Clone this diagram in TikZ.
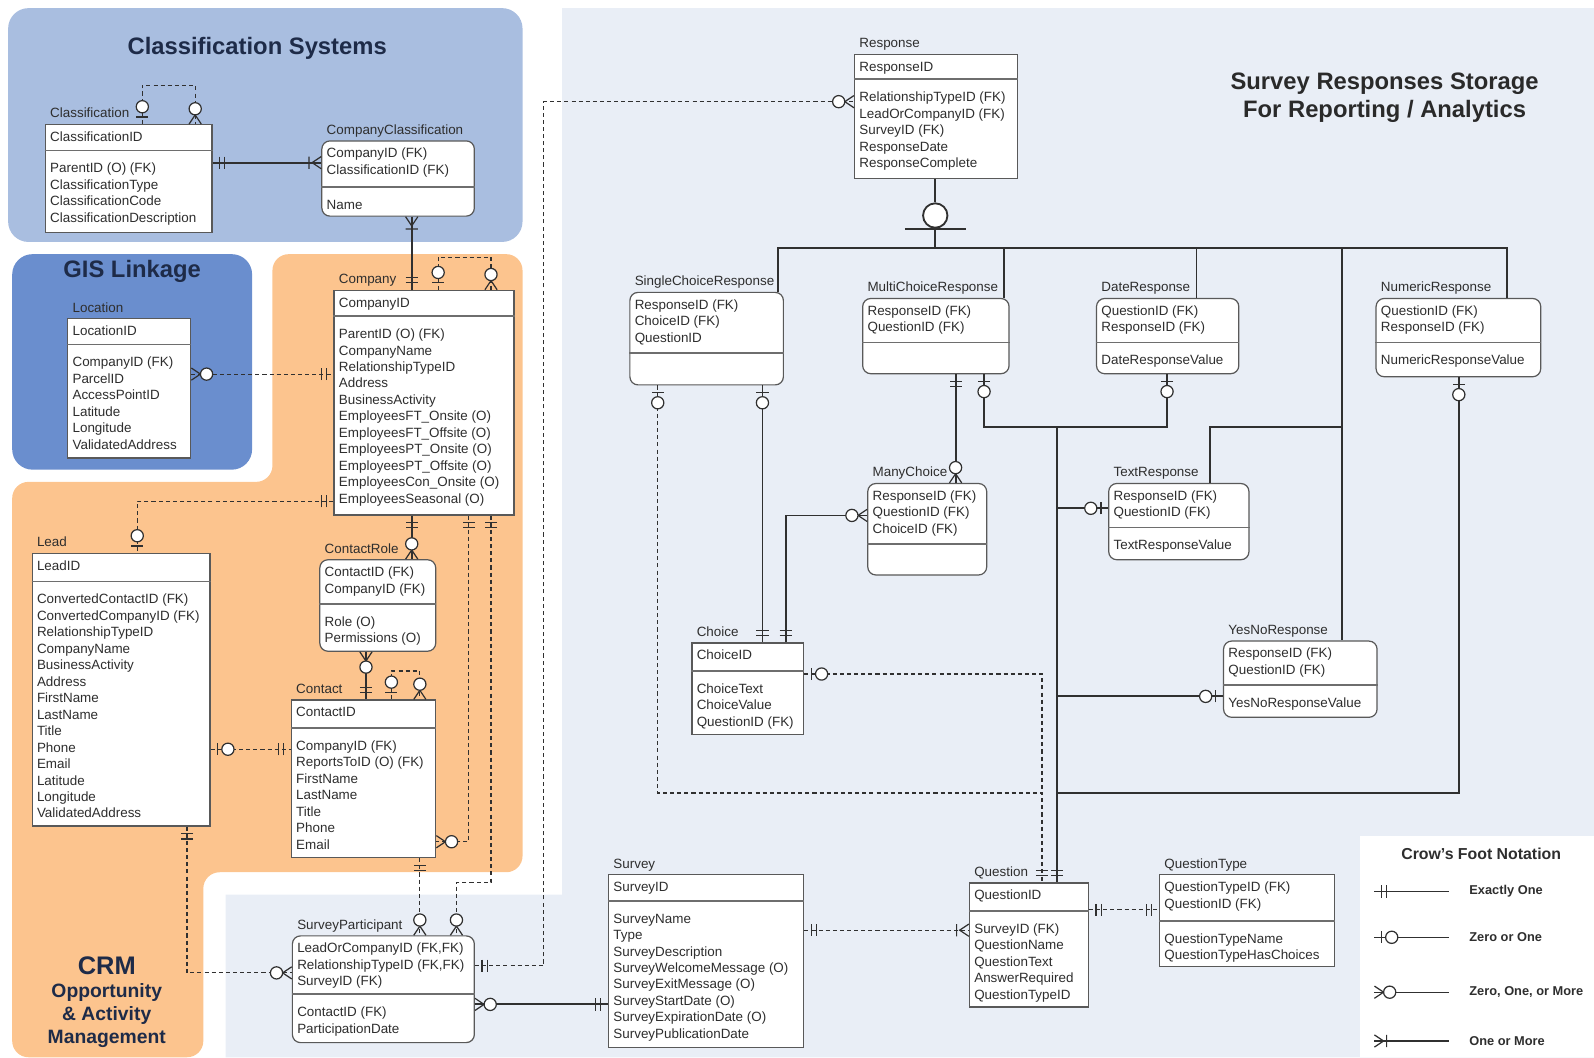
\documentclass[tikz,border=0pt]{standalone}
\usepackage{fontspec}
\setmainfont{Liberation Sans}
\usetikzlibrary{positioning}

\definecolor{classbg}{HTML}{A9BEE0}
\definecolor{gisbg}{HTML}{6A8ECE}
\definecolor{crmbg}{HTML}{FCC48E}
\definecolor{survbg}{HTML}{E9EEF6}
\definecolor{headc}{HTML}{1E2B48}
\definecolor{darkc}{HTML}{2A2A2A}
\definecolor{linec}{HTML}{303030}
\definecolor{txtc}{HTML}{2E2E2E}

\tikzset{
  ent/.style={draw=linec!80, fill=white, line width=0.6pt, anchor=north west, inner sep=0pt},
  entr/.style={rounded corners=4pt},
  enttitle/.style={anchor=base west, inner sep=0pt, font=\fontsize{6.6}{8}\selectfont, text=txtc},
  rowtxt/.style={anchor=base west, inner sep=0pt, font=\fontsize{6.6}{8}\selectfont, text=txtc},
  entsep/.style={draw=linec!70, line width=0.8pt},
  rel/.style={draw=linec, line width=0.6pt, dash pattern=on 2pt off 1.5pt},
  idrel/.style={draw=linec, line width=0.9pt},
  regtitle/.style={font=\bfseries\fontsize{11.7}{14}\selectfont, text=headc, align=center},
  legtxt/.style={anchor=west, inner sep=0pt, font=\bfseries\fontsize{6.3}{8}\selectfont, text=txtc},
  pics/exone/.style={code={\draw[linec, line width=0.6pt] (7,-6)--(7,6) (12,-6)--(12,6);}},
  pics/zeroone/.style={code={\draw[linec, line width=0.6pt] (7,-6)--(7,6);
      \draw[linec, line width=0.6pt, fill=white] (17,0) circle (3pt);}},
  pics/zeromany/.style={code={\draw[linec, line width=0.6pt] (0,-6)--(9,0)--(0,6);
      \draw[linec, line width=0.6pt, fill=white] (15,0) circle (3pt);}},
  pics/onemany/.style={code={\draw[linec, line width=0.6pt] (0,-6)--(9,0)--(0,6) (12,-6)--(12,6);}},
}

% entity box: [style]{name}{x,y}{width}{height}{key height}{title}{keys}{attributes}
\newcommand{\erbox}[9][]{%
  \node[ent,#1,minimum width=#4*0.5pt,minimum height=#5*0.5pt] (#2) at (#3) {};
  \node[enttitle] (#2-title) at ([shift={(5,-6)}]#2.north west) {#7};
  \draw[entsep] ([yshift=-#6*0.5pt]#2.north west) -- ([yshift=-#6*0.5pt]#2.north east);
  \foreach \r [count=\i] in {#8}
    \node[rowtxt] at ([shift={(5,1+16.2*\i)}]#2.north west) {\r};
  \foreach \r [count=\i] in {#9}
    \node[rowtxt] at ([shift={(5,#6+5.8+16.2*\i)}]#2.north west) {\r};
}

\begin{document}
\begin{tikzpicture}[x=0.5pt, y=-0.5pt]
    \useasboundingbox (0,0) rectangle (1568,1040);

    % areas
    \fill[survbg] (553,8) -- (1568,8) -- (1568,1040) -- (222,1040) -- (222,880) -- (553,880) -- cycle;
    \fill[classbg, rounded corners=10pt] (8,8) rectangle (514,238);
    \fill[gisbg, rounded corners=10pt] (12,250) rectangle (248,462);
    \fill[crmbg, rounded corners=8pt] (268,250) -- (514,250) -- (514,858) -- (200,858)
        -- (200,1040) -- (12,1040) -- (12,474) -- (268,474) -- cycle;
    \fill[white] (1338,822) rectangle (1568,1040);

    \node[regtitle] (ttl-class) at (253,48) {Classification Systems};
    \node[regtitle] (ttl-gis) at (130,267) {GIS Linkage};
    \node[regtitle, text=darkc] (ttl-survey) at (1362,96) {Survey Responses Storage\\For Reporting / Analytics};
    \node[regtitle, font=\bfseries\fontsize{12.5}{14}\selectfont] (ttl-crm) at (105,950) {CRM};
    \node[regtitle, font=\bfseries\fontsize{9.5}{11.5}\selectfont] (ttl-crm2) at (105,999)
        {Opportunity\\\& Activity\\Management};

    % CRM side
    \erbox{class}{44,122}{164}{106}{26}{Classification}{ClassificationID}
        {ParentID (O) (FK), ClassificationType, ClassificationCode, ClassificationDescription}
    \erbox[entr]{compclass}{316,138}{150}{74}{46}{CompanyClassification}
        {CompanyID (FK), ClassificationID (FK)}{Name}
    \erbox{location}{66,313}{121}{137}{26}{Location}{LocationID}
        {CompanyID (FK), ParcelID, AccessPointID, Latitude, Longitude, ValidatedAddress}
    \erbox{company}{328,285}{177}{221}{26}{Company}{CompanyID}
        {ParentID (O) (FK), CompanyName, RelationshipTypeID, Address, BusinessActivity,
         EmployeesFT\_Onsite (O), EmployeesFT\_Offsite (O), EmployeesPT\_Onsite (O),
         EmployeesPT\_Offsite (O), EmployeesCon\_Onsite (O), EmployeesSeasonal (O)}
    \erbox{lead}{31,544}{175}{268}{28}{Lead}{LeadID}
        {ConvertedContactID (FK), ConvertedCompanyID (FK), RelationshipTypeID, CompanyName,
         BusinessActivity, Address, FirstName, LastName, Title, Phone, Email, Latitude,
         Longitude, ValidatedAddress}
    \erbox[entr]{crole}{314,550}{114}{90}{44}{ContactRole}
        {ContactID (FK), CompanyID (FK)}{Role (O), Permissions (O)}
    \erbox{contact}{286,688}{142}{155}{28}{Contact}{ContactID}
        {CompanyID (FK), ReportsToID (O) (FK), FirstName, LastName, Title, Phone, Email}
    \erbox[entr]{part}{287,920}{179}{105}{58}{SurveyParticipant}
        {{LeadOrCompanyID (FK,FK)}, {RelationshipTypeID (FK,FK)}, SurveyID (FK)}
        {ContactID (FK), ParticipationDate}

    % survey side
    \erbox{survey}{598,860}{192}{170}{26}{Survey}{SurveyID}
        {SurveyName, Type, SurveyDescription, SurveyWelcomeMessage (O), SurveyExitMessage (O),
         SurveyStartDate (O), SurveyExpirationDate (O), SurveyPublicationDate}
    \erbox{question}{953,868}{117}{122}{28}{Question}{QuestionID}
        {SurveyID (FK), QuestionName, QuestionText, AnswerRequired, QuestionTypeID}
    \erbox{qtype}{1140,860}{172}{90}{46}{QuestionType}
        {QuestionTypeID (FK), QuestionID (FK)}{QuestionTypeName, QuestionTypeHasChoices}
    \erbox{response}{840,53}{160}{122}{25}{Response}{ResponseID}
        {RelationshipTypeID (FK), LeadOrCompanyID (FK), SurveyID (FK), ResponseDate, ResponseComplete}
    \erbox[entr]{scr}{619,287}{151}{91}{60}{SingleChoiceResponse}
        {ResponseID (FK), ChoiceID (FK), QuestionID}{}
    \erbox[entr]{mcr}{848,293}{144}{74}{44}{MultiChoiceResponse}
        {ResponseID (FK), QuestionID (FK)}{}
    \erbox[entr]{dater}{1078,293}{140}{74}{44}{DateResponse}
        {QuestionID (FK), ResponseID (FK)}{DateResponseValue}
    \erbox[entr]{numr}{1353,293}{162}{77}{44}{NumericResponse}
        {QuestionID (FK), ResponseID (FK)}{NumericResponseValue}
    \erbox[entr]{manyc}{853,475}{117}{90}{60}{ManyChoice}
        {ResponseID (FK), QuestionID (FK), ChoiceID (FK)}{}
    \erbox[entr]{textr}{1090,475}{138}{75}{44}{TextResponse}
        {ResponseID (FK), QuestionID (FK)}{TextResponseValue}
    \erbox{choice}{680,632}{110}{90}{28}{Choice}{ChoiceID}
        {ChoiceText, ChoiceValue, QuestionID (FK)}
    \erbox[entr]{yesno}{1203,630}{151}{75}{44}{YesNoResponse}
        {ResponseID (FK), QuestionID (FK)}{YesNoResponseValue}

    % bends
    \coordinate (cl1) at (140,84);  \coordinate (cl2) at (192,84);
    \coordinate (cc) at (260,160);  \coordinate (co) at (405,250);
    \coordinate (cp1) at (431,253); \coordinate (cp2) at (483,253);
    \coordinate (lc) at (260,368);  \coordinate (ld) at (135,493);
    \coordinate (cr) at (405,530);  \coordinate (rc) at (360,665);
    \coordinate (ct1) at (385,660); \coordinate (ct2) at (413,660);
    \coordinate (lk) at (246,737);  \coordinate (kc) at (461,828);
    \coordinate (ks1) at (483,868); \coordinate (ks2) at (449,868);
    \coordinate (cs) at (413,880);  \coordinate (ls) at (184,957);
    \coordinate (pr1) at (535,950); \coordinate (pr2) at (535,100);
    \coordinate (ps) at (530,988);  \coordinate (sq) at (870,915);
    \coordinate (qt) at (1100,895);
    \coordinate (b1) at (765,244);  \coordinate (b2) at (988,244);
    \coordinate (b3) at (1177,244); \coordinate (b4) at (1320,244);
    \coordinate (b5) at (1482,244); \coordinate (tr) at (1190,420);
    \coordinate (sc) at (750,500);  \coordinate (sq1) at (647,780);
    \coordinate (qx) at (1025,780); \coordinate (cq) at (1025,663);
    \coordinate (cm) at (773,507);  \coordinate (mm) at (940,420);
    \coordinate (mq1) at (968,420); \coordinate (mq2) at (1148,420);
    \coordinate (qq) at (1040,420); \coordinate (qtx) at (1040,500);
    \coordinate (qyn) at (1040,685);\coordinate (nq1) at (1435,780);
    \coordinate (nq2) at (1040,780);

    % relations
    \draw[rel] (class.north -| cl1) -- (cl1) -- (cl2) -- (class.north -| cl2);
    \draw[idrel] (class.east |- cc) -- (compclass.west |- cc);
    \draw[idrel] (compclass.south -| co) -- (company.north -| co);
    \draw[rel] (company.north -| cp1) -- (cp1) -- (cp2) -- (company.north -| cp2);
    \draw[rel] (location.east |- lc) -- (company.west |- lc);
    \draw[rel] (company.west |- ld) -- (ld) -- (lead.north -| ld);
    \draw[idrel] (company.south -| cr) -- (crole.north -| cr);
    \draw[idrel] (crole.south -| rc) -- (contact.north -| rc);
    \draw[rel] (contact.north -| ct1) -- (ct1) -- (ct2) -- (contact.north -| ct2);
    \draw[rel] (lead.east |- lk) -- (contact.west |- lk);
    \draw[rel] (company.south -| kc) -- (kc) -- (contact.east |- kc);
    \draw[rel] (company.south -| ks1) -- (ks1) -- (ks2) -- (part.north -| ks2);
    \draw[rel] (contact.south -| cs) -- (part.north -| cs);
    \draw[rel] (lead.south -| ls) -- (ls) -- (part.west |- ls);
    \draw[rel] (part.east |- pr1) -- (pr1) -- (pr2) -- (response.west |- pr2);
    \draw[idrel] (part.east |- ps) -- (survey.west |- ps);
    \draw[rel] (survey.east |- sq) -- (question.west |- sq);
    \draw[rel] (question.east |- qt) -- (qtype.west |- qt);

    % response subtypes
    \node[circle, draw=linec, line width=0.9pt, fill=white, minimum size=12pt, inner sep=0pt]
        (hub) at (920,212) {};
    \draw[idrel] (response.south -| hub) -- (hub);
    \draw[idrel] (hub.south) -- (b1 -| hub);
    \draw[linec, line width=0.9pt] ([xshift=-15pt]hub.south) -- ([xshift=15pt]hub.south);
    \draw[idrel] (scr.north -| b1) -- (b1) -- (b5) -- (numr.north -| b5);
    \draw[idrel] (b2) -- (mcr.north -| b2);
    \draw[idrel] (b3) -- (dater.north -| b3);
    \draw[idrel] (b4) -- (yesno.north -| b4);
    \draw[idrel] (textr.north -| tr) -- (tr) -- (tr -| b4);

    \draw[idrel] (scr.south -| sc) -- (choice.north -| sc);
    \draw[rel] (scr.south -| sq1) -- (sq1) -- (qx) -- (question.north -| qx);
    \draw[rel] (choice.east |- cq) -- (cq) -- (qx);
    \draw[idrel] (choice.north -| cm) -- (cm) -- (manyc.west |- cm);
    \draw[idrel] (mcr.south -| mm) -- (manyc.north -| mm);
    \draw[idrel] (mcr.south -| mq1) -- (mq1) -- (mq2) -- (dater.south -| mq2);
    \draw[idrel] (qq) -- (question.north -| qq);
    \draw[idrel] (qtx) -- (textr.west |- qtx);
    \draw[idrel] (qyn) -- (yesno.west |- qyn);
    \draw[idrel] (numr.south -| nq1) -- (nq1) -- (nq2);

    % ends
    \pic[rotate=90] at (class.north -| cl1) {zeroone};
    \pic[rotate=90] at (class.north -| cl2) {zeromany};
    \pic at (class.east |- cc) {exone};
    \pic[rotate=180] at (compclass.west |- cc) {onemany};
    \pic[rotate=-90] at (compclass.south -| co) {onemany};
    \pic[rotate=90] at (company.north -| co) {exone};
    \pic[rotate=90] at (company.north -| cp1) {zeroone};
    \pic[rotate=90] at (company.north -| cp2) {zeromany};
    \pic at (location.east |- lc) {zeromany};
    \pic[rotate=180] at (company.west |- lc) {exone};
    \pic[rotate=180] at (company.west |- ld) {exone};
    \pic[rotate=90] at (lead.north -| ld) {zeroone};
    \pic[rotate=-90] at (company.south -| cr) {exone};
    \pic[rotate=90] at (crole.north -| cr) {zeromany};
    \pic[rotate=-90] at (crole.south -| rc) {zeromany};
    \pic[rotate=90] at (contact.north -| rc) {exone};
    \pic[rotate=90] at (contact.north -| ct1) {zeroone};
    \pic[rotate=90] at (contact.north -| ct2) {zeromany};
    \pic at (lead.east |- lk) {zeroone};
    \pic[rotate=180] at (contact.west |- lk) {exone};
    \pic[rotate=-90] at (company.south -| kc) {exone};
    \pic at (contact.east |- kc) {zeromany};
    \pic[rotate=-90] at (company.south -| ks1) {exone};
    \pic[rotate=90] at (part.north -| ks2) {zeromany};
    \pic[rotate=-90] at (contact.south -| cs) {exone};
    \pic[rotate=90] at (part.north -| cs) {zeromany};
    \pic[rotate=-90] at (lead.south -| ls) {exone};
    \pic[rotate=180] at (part.west |- ls) {zeromany};
    \pic at (part.east |- pr1) {exone};
    \pic[rotate=180] at (response.west |- pr2) {zeromany};
    \pic at (part.east |- ps) {zeromany};
    \pic[rotate=180] at (survey.west |- ps) {exone};
    \pic at (survey.east |- sq) {exone};
    \pic[rotate=180] at (question.west |- sq) {onemany};
    \pic at (question.east |- qt) {exone};
    \pic[rotate=180] at (qtype.west |- qt) {exone};
    \pic[rotate=-90] at (scr.south -| sc) {zeroone};
    \pic[rotate=90] at (choice.north -| sc) {exone};
    \pic[rotate=-90] at (scr.south -| sq1) {zeroone};
    \pic[rotate=90] at (question.north -| qx) {exone};
    \pic at (choice.east |- cq) {zeroone};
    \pic[rotate=90] at (choice.north -| cm) {exone};
    \pic[rotate=180] at (manyc.west |- cm) {zeromany};
    \pic[rotate=-90] at (mcr.south -| mm) {exone};
    \pic[rotate=90] at (manyc.north -| mm) {zeromany};
    \pic[rotate=-90] at (mcr.south -| mq1) {zeroone};
    \pic[rotate=-90] at (dater.south -| mq2) {zeroone};
    \pic[rotate=90] at (question.north -| qq) {exone};
    \pic[rotate=180] at (textr.west |- qtx) {zeroone};
    \pic[rotate=180] at (yesno.west |- qyn) {zeroone};
    \pic[rotate=-90] at (numr.south -| nq1) {zeroone};

    % legend
    \node[font=\bfseries\fontsize{7.8}{9}\selectfont, text=txtc] (leg) at (1457,840) {Crow's Foot Notation};
    \foreach \y/\kind/\txt [count=\n] in {877/exone/Exactly One, 922/zeroone/Zero or One,
            976/zeromany/{Zero, One, or More}, 1024/onemany/One or More} {
        \coordinate (lg\n) at (1352,\y);
        \draw[linec, line width=0.6pt] (lg\n) -- ++(73,0);
        \pic at (lg\n) {\kind};
        \node[legtxt] (lgt\n) at (1445,\y) {\txt};
    }
\end{tikzpicture}
\end{document}
